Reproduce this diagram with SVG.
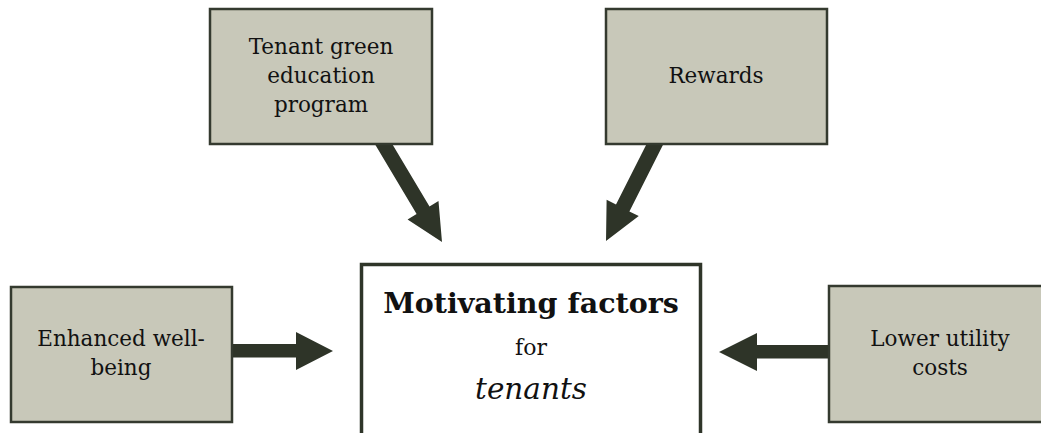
<svg xmlns="http://www.w3.org/2000/svg" width="1041" height="433" viewBox="0 0 1041 433">
<style>
.box{fill:#c8c8b9;stroke:#343a2f;stroke-width:2.5}
.main{fill:#ffffff;stroke:#2f3529;stroke-width:3.5}
.arr{fill:#2e3428}
text{font-family:"DejaVu Serif","Liberation Serif",serif;fill:#111111;text-anchor:middle}
.t{font-size:21.5px}
</style>
<rect width="1041" height="433" fill="#ffffff"/>
<g id="connectors">
<polygon class="arr" points="372.3,139.8 416.6,214.0 407.57,219.45 442,242 438.49,200.99 429.5,206.4 385.2,132.2"/>
<polygon class="arr" points="652.4,132.6 616.0,204.6 606.61,199.85 606,241 638.75,216.09 629.4,211.4 665.7,139.4"/>
<polygon class="arr" points="225,344 296,344 296,332 333,351 296,370 296,357.5 225,357.5"/>
<polygon class="arr" points="836,345 757,345 757,333 719,352 757,371 757,358.5 836,358.5"/>
</g>
<g id="node-education">
<rect class="box" x="210" y="9" width="222" height="135"/>
<text class="t" x="321" y="54">Tenant green</text>
<text class="t" x="321" y="83">education</text>
<text class="t" x="321" y="112">program</text>
</g>
<g id="node-rewards">
<rect class="box" x="606" y="9" width="221" height="135"/>
<text class="t" x="716" y="83">Rewards</text>
</g>
<g id="node-wellbeing">
<rect class="box" x="11" y="287" width="221" height="135"/>
<text class="t" x="121" y="346">Enhanced well-</text>
<text class="t" x="121" y="375">being</text>
</g>
<g id="node-utility">
<rect class="box" x="829" y="286" width="220" height="136"/>
<text class="t" x="940" y="346">Lower utility</text>
<text class="t" x="940" y="375">costs</text>
</g>
<g id="node-center">
<rect class="main" x="361.5" y="264.5" width="339" height="190"/>
<text x="531" y="313" style="font-size:28.5px;font-weight:bold">Motivating factors</text>
<text x="531" y="355" style="font-size:22px">for</text>
<text x="531" y="399" style="font-size:29.5px;font-style:italic">tenants</text>
</g>
</svg>
